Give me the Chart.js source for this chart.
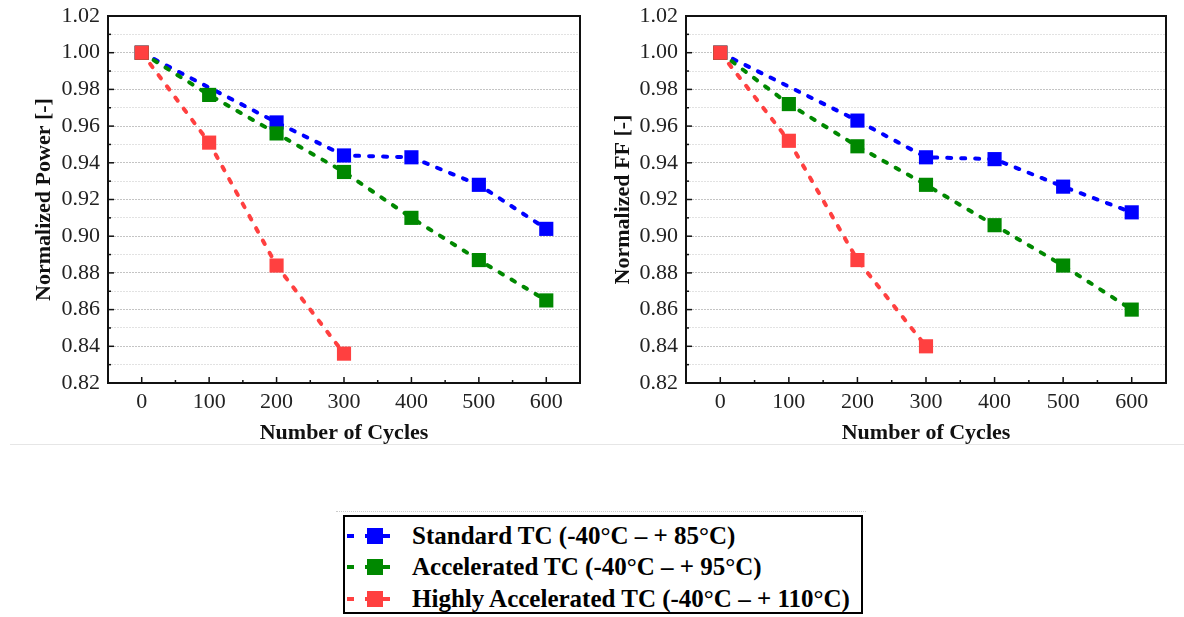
<!DOCTYPE html>
<html>
<head>
<meta charset="utf-8">
<script src="https://cdn.jsdelivr.net/npm/chart.js@4/dist/chart.umd.min.js"></script>
<style>
  body { margin: 0; background: #fff; width: 1184px; height: 617px; position: relative; overflow: hidden; font-family: "Liberation Serif", serif; }
  .box { position: absolute; top: 0; height: 447px; }
  #leftBox { left: 0; width: 590px; }
  #rightBox { left: 590px; width: 594px; }
  .sep { position: absolute; left: 10px; right: 0; top: 444px; height: 1px; background: #e6e6e6; }
  .sep2 { position: absolute; left: 336px; width: 530px; top: 511px; border-top: 1px dotted #ccc; }
  #legend { position: absolute; left: 343px; top: 515px; width: 520px; height: 99px; box-sizing: border-box; border: 2px solid #000; padding-top: 3px; }
  .row { height: 31.5px; display: flex; align-items: center; font-weight: bold; font-size: 25px; color: #000; white-space: nowrap; }
  .sym { position: relative; width: 48px; height: 18px; margin-left: 2px; margin-right: 17px; flex: none; }
  .sym .ln { position: absolute; left: 0; right: 0; top: 7px; height: 4px; }
  .sym .sq { position: absolute; left: 20px; top: 1px; width: 16px; height: 16px; }
</style>
</head>
<body>
<div class="box" id="leftBox"><canvas id="powerChart"></canvas></div>
<div class="box" id="rightBox"><canvas id="ffChart"></canvas></div>
<div class="sep"></div>
<div class="sep2"></div>
<div id="legend"></div>
<script>
// Cycles on the x axis
const cycles = [0, 100, 200, 300, 400, 500, 600];

// Normalized power (left panel)
const powerStandard = [1.000, null, 0.962, 0.944, 0.943, 0.928, 0.904];
const powerAccelerated = [1.000, 0.977, 0.956, 0.935, 0.910, 0.887, 0.865];
const powerHighly = [1.000, 0.951, 0.884, 0.836];

// Normalized FF (right panel)
const ffStandard = [1.000, null, 0.963, 0.943, 0.942, 0.927, 0.913];
const ffAccelerated = [1.000, 0.972, 0.949, 0.928, 0.906, 0.884, 0.860];
const ffHighly = [1.000, 0.952, 0.887, 0.840];

const seriesNames = [
    'Standard TC (-40°C – + 85°C)',
    'Accelerated TC (-40°C – + 95°C)',
    'Highly Accelerated TC (-40°C – + 110°C)'
];
const seriesColors = ['#0000ff', '#008800', '#ff4040'];

const serif = '"Liberation Serif", "Times New Roman", serif';

function toPoints(values) {
    return values.map((v, i) => ({ x: cycles[i], y: v }));
}

// frame round the plot + inward ticks on bottom and left
const framePlugin = {
    id: 'frame',
    afterDraw(chart) {
        const { ctx, chartArea: a, scales } = chart;
        ctx.save();
        ctx.strokeStyle = '#111';
        ctx.lineWidth = 1.5;
        scales.x.ticks.forEach(t => {
            const px = scales.x.getPixelForValue(t.value);
            const len = t.value % 100 === 0 ? 6 : 3;
            ctx.beginPath();
            ctx.moveTo(px, a.bottom);
            ctx.lineTo(px, a.bottom - len);
            ctx.stroke();
        });
        scales.y.ticks.forEach(t => {
            const py = scales.y.getPixelForValue(t.value);
            const len = Math.round(t.value * 100) % 2 === 0 ? 6 : 3;
            ctx.beginPath();
            ctx.moveTo(a.left, py);
            ctx.lineTo(a.left + len, py);
            ctx.stroke();
        });
        ctx.lineWidth = 2;
        ctx.strokeRect(a.left, a.top, a.right - a.left, a.bottom - a.top);
        ctx.restore();
    }
};

function makeDataset(i, values) {
    return {
        label: seriesNames[i],
        data: toPoints(values),
        borderColor: seriesColors[i],
        backgroundColor: seriesColors[i],
        borderWidth: 4,
        borderDash: [4, 10],
        borderCapStyle: 'round',
        pointStyle: 'rect',
        pointRadius: 10,
        pointHoverRadius: 10,
        pointBorderWidth: 0,
        spanGaps: true,
        order: 3 - i
    };
}

function makeConfig(yTitle, series, yWidth, titlePad, padRight) {
    return {
        type: 'line',
        data: {
            datasets: series.map((s, i) => makeDataset(i, s))
        },
        options: {
            responsive: true,
            maintainAspectRatio: false,
            animation: false,
            layout: { padding: { top: 16, right: padRight, left: 0, bottom: 0 } },
            plugins: {
                legend: { display: false },
                tooltip: { enabled: false }
            },
            scales: {
                x: {
                    type: 'linear',
                    min: -50,
                    max: 650,
                    grid: { display: false, drawTicks: false },
                    border: { display: false },
                    ticks: {
                        stepSize: 50,
                        autoSkip: false,
                        maxRotation: 0,
                        padding: 6,
                        color: '#222',
                        font: { family: serif, size: 22 },
                        callback: v => (v >= 0 && v <= 600 && v % 100 === 0) ? String(v) : ''
                    },
                    title: {
                        display: true,
                        text: 'Number of Cycles',
                        color: '#111',
                        font: { family: serif, size: 22, weight: 'bold' },
                        padding: { top: 0, bottom: 0 }
                    },
                    afterFit: s => { s.height = 64; s.paddingLeft = 0; s.paddingRight = 0; }
                },
                y: {
                    min: 0.82,
                    max: 1.02,
                    grid: {
                        drawTicks: false,
                        color: c => Math.round(c.tick.value * 100) % 2 === 0 ? '#c4c4c4' : '#e2e2e2',
                        lineWidth: 1
                    },
                    border: { display: false, dash: [2, 1] },
                    ticks: {
                        stepSize: 0.01,
                        autoSkip: false,
                        padding: 8,
                        color: '#222',
                        font: { family: serif, size: 22 },
                        callback: v => Math.round(v * 100) % 2 === 0 ? v.toFixed(2) : ''
                    },
                    title: {
                        display: true,
                        text: yTitle,
                        color: '#111',
                        font: { family: serif, size: 22, weight: 'bold' },
                        padding: { top: titlePad, bottom: 0 }
                    },
                    afterFit: s => { s.width = yWidth; s.paddingTop = 0; s.paddingBottom = 0; }
                }
            }
        },
        plugins: [framePlugin]
    };
}

new Chart(
    document.getElementById('powerChart'),
    makeConfig('Normalized Power [-]', [powerStandard, powerAccelerated, powerHighly], 108, 31, 2)
);

new Chart(
    document.getElementById('ffChart'),
    makeConfig('Normalized FF [-]', [ffStandard, ffAccelerated, ffHighly], 96, 20, 18)
);

// shared legend below both panels
const legend = document.getElementById('legend');
seriesNames.forEach((name, i) => {
    const c = seriesColors[i];
    const row = document.createElement('div');
    row.className = 'row';
    row.innerHTML = '<div class="sym"><div class="ln" style="background:repeating-linear-gradient(to right,' + c +
        ' 0 7px, transparent 7px 18px)"></div>' +
        '<div class="sq" style="background:' + c + '"></div></div><span>' + name + '</span>';
    legend.appendChild(row);
});
</script>
</body>
</html>
